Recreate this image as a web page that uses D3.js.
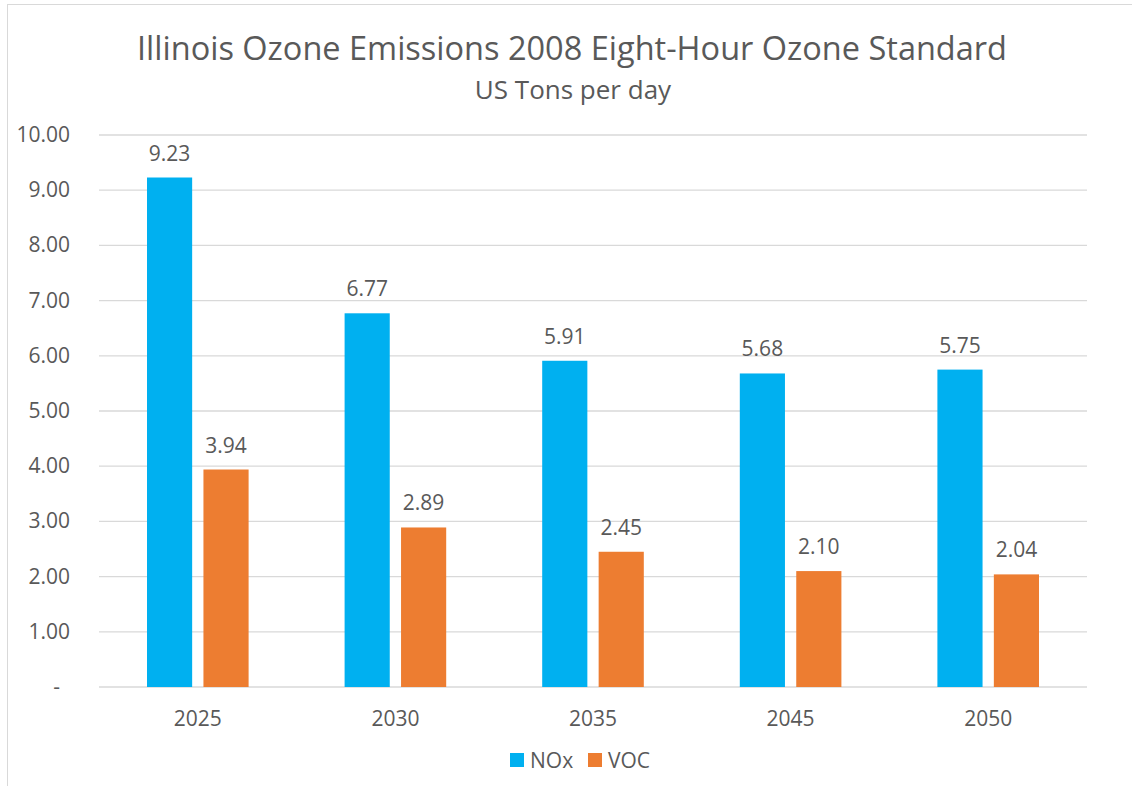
<!DOCTYPE html>
<html>
<head>
<meta charset="utf-8">
<script src="https://cdn.jsdelivr.net/npm/d3@7"></script>
<style>
  body { margin: 0; background: #fff; }
  text { font-family: "Open Sans", "Noto Sans", sans-serif; fill: #595959; }
</style>
</head>
<body>
<div id="chart"></div>
<script>
const years = ['2025', '2030', '2035', '2045', '2050'];
const nox = [9.23, 6.77, 5.91, 5.68, 5.75];
const voc = [3.94, 2.89, 2.45, 2.10, 2.04];
const seriesNames = ['NOx', 'VOC'];
const yTicks = [0, 1, 2, 3, 4, 5, 6, 7, 8, 9, 10];

const width = 1132, height = 786;
const margin = { top: 135, right: 45, bottom: 99, left: 99 };
const colors = ['#00B0F0', '#ED7D31'];

const svg = d3.select('#chart').append('svg')
  .attr('width', width)
  .attr('height', height);

// chart frame
svg.append('rect')
  .attr('x', 7.5).attr('y', 4.5)
  .attr('width', 1140).attr('height', 800)
  .attr('fill', 'none')
  .attr('stroke', '#d9d9d9');

const x = d3.scaleBand()
  .domain(years)
  .range([margin.left, width - margin.right]);

// bars sit in the middle of each category
const x1 = d3.scaleBand()
  .domain(seriesNames)
  .range([48, x.bandwidth() - 48])
  .paddingInner(0.2);

const y = d3.scaleLinear()
  .domain([0, 10])
  .range([height - margin.bottom, margin.top]);

// gridlines
svg.append('g')
  .selectAll('line')
  .data(yTicks)
  .join('line')
  .attr('x1', margin.left)
  .attr('x2', width - margin.right)
  .attr('y1', d => y(d))
  .attr('y2', d => y(d))
  .attr('stroke', '#d9d9d9')
  .attr('stroke-width', 1.3);

// y labels
svg.append('g')
  .selectAll('text')
  .data(yTicks)
  .join('text')
  .attr('x', d => d === 0 ? 60 : 70)
  .attr('y', d => y(d) + 7)
  .attr('text-anchor', 'end')
  .style('font-size', '21px')
  .text(d => d === 0 ? '-' : d.toFixed(2));

const rows = years.map((yr, i) => ({ year: yr, values: [nox[i], voc[i]] }));

const groups = svg.append('g')
  .selectAll('g')
  .data(rows)
  .join('g')
  .attr('transform', d => `translate(${x(d.year)},0)`);

groups.selectAll('rect')
  .data(d => d.values.map((v, j) => ({ key: seriesNames[j], v, j })))
  .join('rect')
  .attr('x', d => x1(d.key))
  .attr('width', x1.bandwidth())
  .attr('y', d => y(d.v))
  .attr('height', d => y(0) - y(d.v))
  .attr('fill', d => colors[d.j]);

groups.selectAll('text')
  .data(d => d.values.map((v, j) => ({ key: seriesNames[j], v, j })))
  .join('text')
  .attr('x', d => x1(d.key) + x1.bandwidth() / 2)
  .attr('y', d => y(d.v) - 17)
  .attr('text-anchor', 'middle')
  .style('font-size', '21px')
  .text(d => d.v.toFixed(2));

// x labels
svg.append('g')
  .selectAll('text')
  .data(years)
  .join('text')
  .attr('x', d => x(d) + x.bandwidth() / 2)
  .attr('y', 726)
  .attr('text-anchor', 'middle')
  .style('font-size', '21px')
  .text(d => d);

// titles
svg.append('text')
  .attr('x', 572).attr('y', 60)
  .attr('text-anchor', 'middle')
  .style('font-size', '32.5px')
  .text('Illinois Ozone Emissions 2008 Eight-Hour Ozone Standard');

svg.append('text')
  .attr('x', 573).attr('y', 99)
  .attr('text-anchor', 'middle')
  .style('font-size', '26px')
  .text('US Tons per day');

// legend
const legendX = [510, 588];
const legend = svg.append('g')
  .selectAll('g')
  .data(seriesNames)
  .join('g')
  .attr('transform', (d, i) => `translate(${legendX[i]},753)`);

legend.append('rect')
  .attr('width', 14).attr('height', 14)
  .attr('fill', (d, i) => colors[i]);

legend.append('text')
  .attr('x', 20).attr('y', 15)
  .style('font-size', '21px')
  .text(d => d);
</script>
</body>
</html>
